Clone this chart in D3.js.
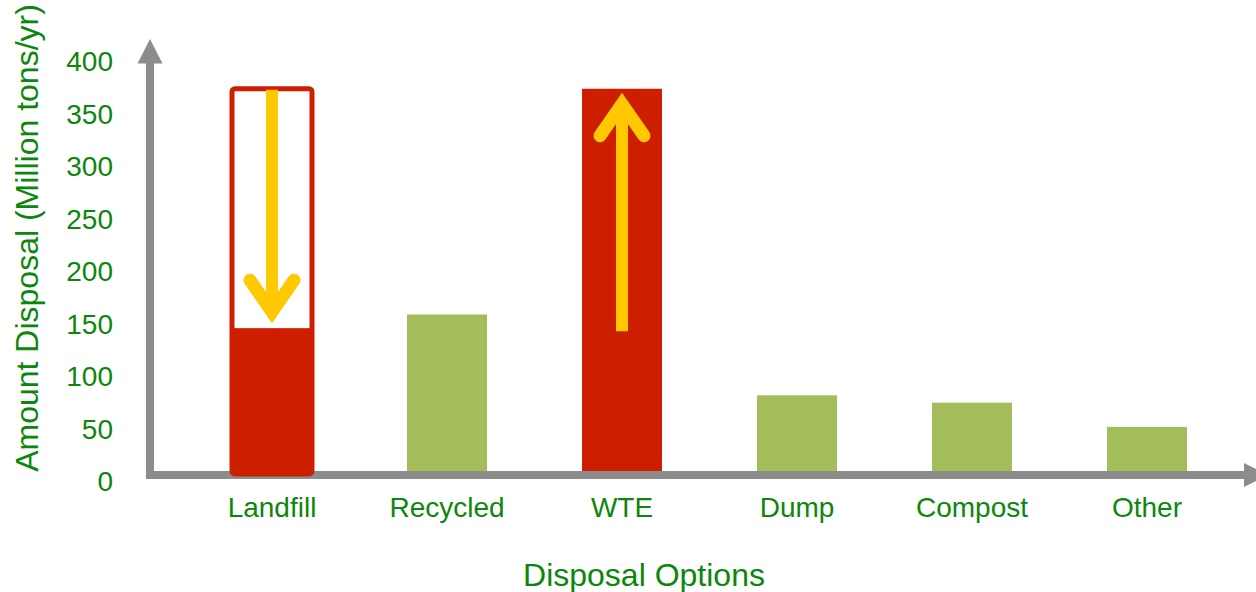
<!DOCTYPE html>
<html lang="en">
<head>
    <meta charset="UTF-8">
    <title>Disposal Options</title>
    <script src="https://d3js.org/d3.v7.min.js"></script>
    <style>
        body {
            margin: 0;
            background-color: #ffffff;
        }
        text {
            font-family: 'Liberation Sans', Arial, sans-serif;
            fill: #0c870c;
        }
    </style>
</head>
<body>
    <script>
        // Data
        const categories = ["Landfill", "Recycled", "WTE", "Dump", "Compost", "Other"];
        const amounts = [365, 150, 365, 73, 66, 43];
        const highlighted = ["Landfill", "WTE"];
        // landfill after shifting waste to WTE
        const landfillAfter = 137;
        const yTicks = [0, 50, 100, 150, 200, 250, 300, 350, 400];

        const data = categories.map(function(c, i) { return {cat: c, value: amounts[i]}; });

        const W = 1256, H = 592;
        const red = "#cd1f00", green = "#a2bd5a", gray = "#8c8c8c", yellow = "#ffc800";

        const x = d3.scaleBand()
            .domain(categories)
            .range([184.5, 1234.5])
            .paddingInner(0.543)
            .paddingOuter(0.2715);
        const y = d3.scaleLinear().domain([0, 400]).range([472, 52]);

        const svg = d3.select("body").append("svg")
            .attr("width", W)
            .attr("height", H);

        // plain bars (drawn under the axis line)
        svg.selectAll(".bar")
            .data(data.filter(function(d) { return d.cat !== "Landfill"; }))
            .enter().append("rect")
            .attr("class", "bar")
            .attr("x", function(d) { return x(d.cat); })
            .attr("y", function(d) { return y(d.value); })
            .attr("width", x.bandwidth())
            .attr("height", function(d) { return y(0) - y(d.value); })
            .style("fill", function(d) { return highlighted.includes(d.cat) ? red : green; });

        // axis lines with arrow heads
        const ax0 = 150, ay0 = 475;
        svg.append("line")
            .attr("x1", ax0).attr("x2", ax0)
            .attr("y1", ay0 + 4).attr("y2", 62)
            .style("stroke", gray).style("stroke-width", 8);
        svg.append("path")
            .attr("d", `M${ax0 - 12.5},63.5 L${ax0},39 L${ax0 + 12.5},63.5 Z`)
            .style("fill", gray);
        svg.append("line")
            .attr("x1", ax0 - 4).attr("x2", 1245)
            .attr("y1", ay0).attr("y2", ay0)
            .style("stroke", gray).style("stroke-width", 8);
        svg.append("path")
            .attr("d", `M1244,${ay0 - 12} L1268,${ay0} L1244,${ay0 + 12} Z`)
            .style("fill", gray);

        // landfill bar: outline for old amount, fill for new amount
        const lf = data[0];
        const lx = x(lf.cat), bw = x.bandwidth();
        svg.append("rect")
            .attr("x", lx).attr("y", y(lf.value))
            .attr("width", bw).attr("height", y(0) + 2 - y(lf.value))
            .attr("rx", 3)
            .style("fill", "#fff")
            .style("stroke", red)
            .style("stroke-width", 5);
        svg.append("rect")
            .attr("x", lx).attr("y", y(landfillAfter))
            .attr("width", bw).attr("height", y(0) + 2 - y(landfillAfter))
            .style("fill", red);

        // yellow arrows
        function arrow(cx, yFrom, yTo) {
            const dir = yTo > yFrom ? 1 : -1;
            const sw = 13, armDx = 22, armDy = 47;
            const back = (sw / 2) / Math.sin(Math.atan(armDx / armDy));
            const tipY = yTo - dir * back;
            svg.append("line")
                .attr("x1", cx).attr("x2", cx)
                .attr("y1", yFrom).attr("y2", yTo - dir * 20)
                .style("stroke", yellow).style("stroke-width", 12);
            svg.append("path")
                .attr("d", `M${cx - armDx},${yTo - dir * armDy} L${cx},${tipY} L${cx + armDx},${yTo - dir * armDy}`)
                .style("fill", "none")
                .style("stroke", yellow)
                .style("stroke-width", sw)
                .style("stroke-linecap", "round")
                .style("stroke-linejoin", "miter");
        }
        const xc = function(c) { return x(c) + x.bandwidth() / 2; };
        arrow(xc("Landfill"), y(lf.value) + 1, y(landfillAfter) - 1);
        arrow(xc("WTE"), y(landfillAfter) + 3, y(data[2].value));

        // tick labels
        const yAxis = svg.append("g")
            .attr("transform", `translate(${ax0},10)`)
            .call(d3.axisLeft(y).tickValues(yTicks).tickSize(0).tickPadding(37));
        yAxis.select(".domain").remove();
        yAxis.selectAll("text")
            .style("font-size", "28px")
            .style("font-family", "'Liberation Sans', Arial, sans-serif")
            .attr("fill", "#0c870c");

        const xAxis = svg.append("g")
            .attr("transform", `translate(0,${ay0})`)
            .call(d3.axisBottom(x).tickSize(0).tickPadding(22));
        xAxis.select(".domain").remove();
        xAxis.selectAll("text")
            .style("font-size", "28px")
            .style("font-family", "'Liberation Sans', Arial, sans-serif")
            .attr("fill", "#0c870c");

        // axis titles
        svg.append("text")
            .attr("transform", "translate(38,238) rotate(-90)")
            .attr("text-anchor", "middle")
            .style("font-size", "32px")
            .text("Amount Disposal (Million tons/yr)");
        svg.append("text")
            .attr("x", 644)
            .attr("y", 586)
            .attr("text-anchor", "middle")
            .style("font-size", "32px")
            .text("Disposal Options");
    </script>
</body>
</html>
